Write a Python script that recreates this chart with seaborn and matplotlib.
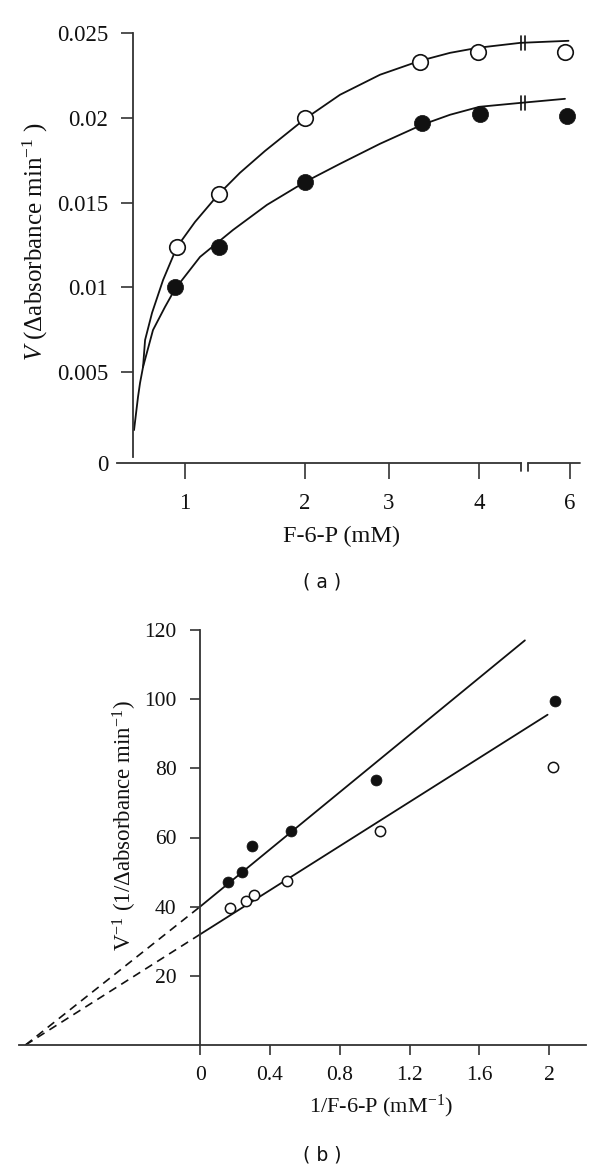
import numpy as np
import pandas as pd
import matplotlib
matplotlib.use("Agg")
import matplotlib.pyplot as plt
import seaborn as sns

# =========================
# DATA panel (a): V vs F-6-P
# =========================
conc_open = [0.93, 1.28, 2.0, 3.34, 3.99, 5.9]
v_open = [0.0124, 0.0155, 0.0200, 0.0233, 0.0239, 0.0239]
conc_filled = [0.92, 1.28, 2.0, 3.37, 4.03, 5.93]
v_filled = [0.0100, 0.0124, 0.0162, 0.0197, 0.0202, 0.0201]

# hand drawn curves
curve_open_x = [0.575, 0.608, 0.625, 0.65, 0.667, 0.725, 0.817, 0.933, 1.083, 1.275,
                1.458, 1.667, 2.0, 2.417, 2.893, 3.344, 3.678, 3.989, 4.912, 5.967]
curve_open_v = [0.00159, 0.00354, 0.00437, 0.00531, 0.0069, 0.0085, 0.01044, 0.01239,
                0.01386, 0.01546, 0.01676, 0.01805, 0.01994, 0.02136, 0.02254, 0.02336,
                0.02383, 0.02413, 0.02442, 0.02454]
curve_filled_x = [0.65, 0.733, 0.833, 0.917, 1.125, 1.4, 1.683, 2.0, 2.417, 2.893,
                  3.367, 3.678, 4.011, 4.912, 5.89]
curve_filled_v = [0.00531, 0.00749, 0.00885, 0.00991, 0.0118, 0.01339, 0.01487, 0.01622,
                  0.01729, 0.01847, 0.01959, 0.02018, 0.02065, 0.02088, 0.02112]
break_x = [4.92, 5.01]

xticks_a = [1, 2, 3, 4, 6]
xticklabels_a = ["1", "2", "3", "4", "6"]
yticks_a = [0, 0.005, 0.01, 0.015, 0.02, 0.025]
yticklabels_a = ["0", "0.005", "0.01", "0.015", "0.02", "0.025"]

# =========================
# DATA panel (b): Lineweaver-Burk
# =========================
inv_s_filled = [0.16, 0.24, 0.30, 0.52, 1.01, 2.03]
inv_v_filled = [47, 50, 57.5, 62, 76.5, 99.5]
inv_s_open = [0.17, 0.26, 0.31, 0.50, 1.03, 2.02]
inv_v_open = [39.5, 41.5, 43.5, 47.5, 62, 80.5]

fit_x_filled = [0, 1.86]
fit_v_filled = [40, 117]
fit_x_open = [0, 1.99]
fit_v_open = [32, 95.5]
ext_x = [-1.0, 0]
ext_v_filled = [0, 40]
ext_v_open = [0, 32]

xticks_b = [0, 0.4, 0.8, 1.2, 1.6, 2]
xticklabels_b = ["0", "0.4", "0.8", "1.2", "1.6", "2"]
yticks_b = [20, 40, 60, 80, 100, 120]

# =========================
# STYLE
# =========================
sns.set_theme(style="ticks")
plt.rcParams["font.family"] = ["Liberation Serif", "DejaVu Serif"]
plt.rcParams["mathtext.fontset"] = "custom"
plt.rcParams["mathtext.rm"] = "Liberation Serif"
plt.rcParams["mathtext.it"] = "Liberation Serif:italic"
plt.rcParams["mathtext.sf"] = "Liberation Serif"

INK = "#111111"
AXC = "#333333"
W, H = 600, 1169

fig = plt.figure(figsize=(W / 100, H / 100), dpi=100)

# ---- panel (a) ----
ax1 = fig.add_axes([117 / W, (H - 463) / H, (580 - 117) / W, (463 - 33) / H])

# irregular hand-made x axis: piecewise linear scale
KN_D = np.array([-10, 1, 2, 3, 4, 6, 20], dtype=float)
KN_P = np.array([-1135, 185, 305, 389, 479, 570, 1207], dtype=float)


def fwd(x):
    return np.interp(x, KN_D, KN_P)


def inv(p):
    return np.interp(p, KN_P, KN_D)


ax1.set_xscale("function", functions=(fwd, inv))
ax1.set_xlim(0.433, 6.22)
ax1.set_ylim(-0.00035, 0.025)

df_curve_o = pd.DataFrame({"x": curve_open_x, "v": curve_open_v})
df_curve_f = pd.DataFrame({"x": curve_filled_x, "v": curve_filled_v})
sns.lineplot(data=df_curve_o, x="x", y="v", sort=False, color=INK, lw=1.3, ax=ax1)
sns.lineplot(data=df_curve_f, x="x", y="v", sort=False, color=INK, lw=1.3, ax=ax1)

# break marks on the curves
for cx, cv in [(curve_open_x, curve_open_v), (curve_filled_x, curve_filled_v)]:
    yb = np.interp(4.95, cx, cv)
    for bx in break_x:
        ax1.plot([bx, bx], [yb - 0.0004, yb + 0.0004], color=INK, lw=1.2)

df_o = pd.DataFrame({"x": conc_open, "v": v_open})
df_f = pd.DataFrame({"x": conc_filled, "v": v_filled})
sns.scatterplot(data=df_o, x="x", y="v", s=125, marker="o", facecolor="white",
                edgecolor=INK, linewidth=1.2, ax=ax1, zorder=5)
sns.scatterplot(data=df_f, x="x", y="v", s=135, marker="o", color=INK,
                edgecolor=INK, linewidth=0.5, ax=ax1, zorder=5)

for s in ["top", "right"]:
    ax1.spines[s].set_visible(False)
ax1.spines["left"].set_position(("data", 0.567))
ax1.spines["left"].set_bounds(0, 0.025)
ax1.spines["bottom"].set_bounds(0.433, 4.92)
for s in ["left", "bottom"]:
    ax1.spines[s].set_color(AXC)
    ax1.spines[s].set_linewidth(1.3)

# axis break on the x axis
tb = ax1.get_xaxis_transform()
ax1.plot([5.08, 6.22], [0, 0], transform=tb, color=AXC, lw=1.3, clip_on=False)
ax1.plot([4.92, 4.92], [0, -0.019], transform=tb, color=AXC, lw=1.3, clip_on=False)
ax1.plot([5.08, 5.08], [0, -0.019], transform=tb, color=AXC, lw=1.3, clip_on=False)

ax1.set_xticks(xticks_a)
ax1.set_xticklabels(xticklabels_a)
ax1.set_yticks([-0.00035] + yticks_a[1:])
ax1.set_yticklabels(yticklabels_a)
ax1.yaxis.get_major_ticks()[0].tick1line.set_visible(False)
ax1.tick_params(axis="x", direction="out", length=11.5, width=1.2, color=AXC,
                labelsize=16.5, pad=10, labelcolor=INK)
ax1.tick_params(axis="y", direction="out", length=9, width=1.2, color=AXC,
                labelsize=16.5, pad=9, labelcolor=INK)
ax1.minorticks_off()

ax1.set_xlabel("F-6-P (mM)", fontsize=17.5, color=INK)
ax1.xaxis.set_label_coords((342 - 117) / 463, (463 - 536) / 430)
ax1.xaxis.label.set_va("center")
ax1.set_ylabel(r"$V$ ($\Delta$absorbance min$^{-1}$ )", fontsize=18, color=INK)
ax1.yaxis.set_label_coords((35 - 117) / 463, (463 - 242) / 430)
ax1.yaxis.label.set_va("center")

fig.text(322 / W, 1 - 582 / H, "( a )", family="DejaVu Sans", fontsize=13.5,
         ha="center", va="center", color=INK)

# ---- panel (b) ----
ax2 = fig.add_axes([18.5 / W, (H - 1045) / H, (586 - 18.5) / W, (1045 - 630) / H])
ax2.set_xlim(-1.04, 2.21)
ax2.set_ylim(0, 120)

df_fit_f = pd.DataFrame({"x": fit_x_filled, "v": fit_v_filled})
df_fit_o = pd.DataFrame({"x": fit_x_open, "v": fit_v_open})
sns.lineplot(data=df_fit_f, x="x", y="v", color=INK, lw=1.3, ax=ax2)
sns.lineplot(data=df_fit_o, x="x", y="v", color=INK, lw=1.3, ax=ax2)
ax2.plot(ext_x, ext_v_filled, color=INK, lw=1.2, ls=(0, (5, 3.5)))
ax2.plot(ext_x, ext_v_open, color=INK, lw=1.2, ls=(0, (5, 3.5)))

df_bf = pd.DataFrame({"x": inv_s_filled, "v": inv_v_filled})
df_bo = pd.DataFrame({"x": inv_s_open, "v": inv_v_open})
sns.scatterplot(data=df_bf, x="x", y="v", s=62, marker="o", color=INK,
                edgecolor=INK, linewidth=0.5, ax=ax2, zorder=5)
sns.scatterplot(data=df_bo, x="x", y="v", s=55, marker="o", facecolor="white",
                edgecolor=INK, linewidth=1.1, ax=ax2, zorder=5)

for s in ["top", "right"]:
    ax2.spines[s].set_visible(False)
ax2.spines["left"].set_position(("data", 0))
ax2.spines["left"].set_bounds(0, 120)
for s in ["left", "bottom"]:
    ax2.spines[s].set_color(AXC)
    ax2.spines[s].set_linewidth(1.3)

ax2.set_xticks(xticks_b)
ax2.set_xticklabels(xticklabels_b)
ax2.set_yticks(yticks_b)
ax2.tick_params(axis="x", direction="out", length=7, width=1.2, color=AXC,
                labelsize=15.5, pad=8, labelcolor=INK)
ax2.tick_params(axis="y", direction="out", length=7, width=1.2, color=AXC,
                labelsize=15.5, pad=10, labelcolor=INK)

ax2.set_xlabel(r"1/F-6-P (mM$^{-1}$)", fontsize=16, color=INK)
ax2.xaxis.set_label_coords((381 - 18.5) / 567.5, (1045 - 1106) / 415)
ax2.xaxis.label.set_va("center")
ax2.set_ylabel(r"V$^{-1}$ (1/$\Delta$absorbance min$^{-1}$)", fontsize=16.5, color=INK)
ax2.yaxis.set_label_coords((125 - 18.5) / 567.5, (1045 - 826) / 415)
ax2.yaxis.label.set_va("center")

fig.text(322 / W, 1 - 1155 / H, "( b )", family="DejaVu Sans", fontsize=13.5,
         ha="center", va="center", color=INK)

fig.savefig("out.png", dpi=100, facecolor="white")
